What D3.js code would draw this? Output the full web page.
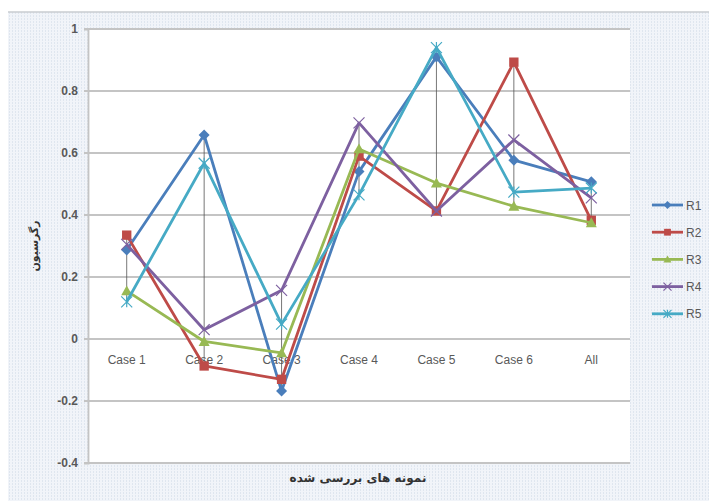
<!DOCTYPE html>
<html>
<head>
<meta charset="utf-8">
<script src="https://cdn.jsdelivr.net/npm/d3@7"></script>
<style>
	body { margin: 0; background: #fff; }
	svg text { font-family: "Liberation Sans", Arial, sans-serif; }
</style>
</head>
<body>
<div id="chart"></div>
<script>

// data
const categories = ["Case 1", "Case 2", "Case 3", "Case 4", "Case 5", "Case 6", "All"];
const seriesNames = ["R1", "R2", "R3", "R4", "R5"];
const R1 = [0.287, 0.658, -0.168, 0.54, 0.91, 0.577, 0.507];
const R2 = [0.335, -0.087, -0.13, 0.59, 0.413, 0.893, 0.383];
const R3 = [0.155, -0.008, -0.045, 0.613, 0.503, 0.428, 0.375];
const R4 = [0.305, 0.03, 0.157, 0.697, 0.413, 0.642, 0.455];
const R5 = [0.12, 0.567, 0.048, 0.465, 0.94, 0.474, 0.487];
const yTicks = [-0.4, -0.2, 0, 0.2, 0.4, 0.6, 0.8, 1];
const xTitle = "نمونه های بررسی شده";
const yTitle = "رگرسیون";

function chart(){

	const width = 709;
	const height = 501;

	const seriesValues = [R1, R2, R3, R4, R5];
	const colors = ["#4a7ebb", "#be4b48", "#98b954", "#7d60a0", "#46aac5"];
	const shapes = ["diamond", "square", "triangle", "x", "star"];

	let svg = d3.select("#chart")
		.append("svg")
		.attr("width", width)
		.attr("height", height);

	//dotted background pattern
	let pat = svg.append("defs").append("pattern")
		.attr("id", "bgdots")
		.attr("width", 3)
		.attr("height", 3)
		.attr("patternUnits", "userSpaceOnUse");
	pat.append("rect").attr("width", 3).attr("height", 3).attr("fill", "#f1f4f9");
	pat.append("rect").attr("width", 1).attr("height", 2).attr("fill", "#dfe6ef");

	svg.append("rect")
		.attr("x", 8).attr("y", 12)
		.attr("width", width - 8).attr("height", height - 12)
		.attr("fill", "url(#bgdots)");

	svg.append("line")
		.attr("x1", 8).attr("x2", width)
		.attr("y1", 12).attr("y2", 12)
		.attr("stroke", "#c9ccd1").attr("stroke-width", 1.5);

	//scales
	let x = d3.scaleBand()
		.domain(categories)
		.range([88, 630]);

	let y = d3.scaleLinear()
		.domain([-0.4, 1])
		.range([463, 29]);

	//plot area
	svg.append("rect")
		.attr("x", x.range()[0]).attr("y", y(1))
		.attr("width", x.range()[1] - x.range()[0])
		.attr("height", y(-0.4) - y(1))
		.attr("fill", "#fff");

	//gridlines
	svg.append("g")
		.selectAll("line")
		.data(yTicks)
		.enter().append("line")
		.attr("x1", 84).attr("x2", x.range()[1])
		.attr("y1", (d)=>y(d)).attr("y2", (d)=>y(d))
		.attr("stroke", "#c4c4c4")
		.attr("stroke-width", 1.8);

	//y axis
	let yAxis = svg.append("g")
		.attr("transform", "translate(88,0)")
		.call(d3.axisLeft(y).tickValues(yTicks).tickSize(4).tickPadding(6)
			.tickFormat((d)=> d === 0 ? "0" : String(+d.toFixed(1))));
	yAxis.select(".domain").attr("stroke", "#c4c4c4").attr("stroke-width", 1.8);
	yAxis.selectAll(".tick line").attr("stroke", "#c4c4c4");
	yAxis.selectAll("text")
		.attr("fill", "#595959")
		.attr("font-size", 12)
		.attr("font-weight", "bold")
		.style("font-family", "Liberation Sans, Arial, sans-serif");

	//x labels
	svg.append("g")
		.selectAll("text")
		.data(categories)
		.enter().append("text")
		.attr("x", (d)=>x(d) + x.bandwidth()/2)
		.attr("y", y(0) + 25)
		.attr("text-anchor", "middle")
		.attr("font-size", 12)
		.attr("fill", "#595959")
		.text((d)=>d);

	//high-low lines
	svg.append("g")
		.selectAll("line")
		.data(categories)
		.enter().append("line")
		.attr("x1", (d)=>x(d) + x.bandwidth()/2)
		.attr("x2", (d)=>x(d) + x.bandwidth()/2)
		.attr("y1", (d, i)=>y(d3.max(seriesValues, (s)=>s[i])))
		.attr("y2", (d, i)=>y(d3.min(seriesValues, (s)=>s[i])))
		.attr("stroke", "#555")
		.attr("stroke-opacity", 0.8)
		.attr("stroke-width", 1);

	//marker drawing
	function marker(sel, shape, color, size){
		let s = size;
		if (shape === "diamond"){
			sel.append("path").attr("d", `M0,${-s}L${s},0L0,${s}L${-s},0Z`).attr("fill", color);
		} else if (shape === "square"){
			sel.append("rect").attr("x", -s*0.85).attr("y", -s*0.85)
				.attr("width", s*1.7).attr("height", s*1.7).attr("fill", color);
		} else if (shape === "triangle"){
			sel.append("path").attr("d", `M0,${-s}L${s},${s*0.8}L${-s},${s*0.8}Z`).attr("fill", color);
		} else if (shape === "x"){
			sel.append("path").attr("d", `M${-s},${-s}L${s},${s}M${-s},${s}L${s},${-s}`)
				.attr("stroke", color).attr("stroke-width", 1.2).attr("fill", "none");
		} else {
			sel.append("path").attr("d", `M${-s},${-s}L${s},${s}M${-s},${s}L${s},${-s}M0,${-s}L0,${s}`)
				.attr("stroke", color).attr("stroke-width", 1.2).attr("fill", "none");
		}
	}

	let line = d3.line()
		.x((d, i)=>x(categories[i]) + x.bandwidth()/2)
		.y((d)=>y(d));

	seriesValues.forEach((vals, k)=>{
		let g = svg.append("g");
		g.append("path")
			.datum(vals)
			.attr("d", line)
			.attr("fill", "none")
			.attr("stroke", colors[k])
			.attr("stroke-width", 2.8)
			.attr("stroke-linejoin", "round");
		vals.forEach((v, i)=>{
			let m = g.append("g")
				.attr("transform", "translate(" + (x(categories[i]) + x.bandwidth()/2) + "," + y(v) + ")");
			marker(m, shapes[k], colors[k], 5.5);
		});
	});

	//legend
	let legend = svg.append("g")
		.selectAll("g")
		.data(seriesNames)
		.enter().append("g")
		.attr("transform", (d, i)=>"translate(652," + (205 + i*27.2) + ")");
	legend.append("line")
		.attr("x1", 0).attr("x2", 31)
		.attr("stroke", (d, i)=>colors[i])
		.attr("stroke-width", 2.8);
	legend.each(function(d, i){
		let m = d3.select(this).append("g").attr("transform", "translate(15.5,0)");
		marker(m, shapes[i], colors[i], 4);
	});
	legend.append("text")
		.attr("x", 34)
		.attr("y", 4.5)
		.attr("font-size", 12)
		.attr("fill", "#595959")
		.text((d)=>d);

	//axis titles
	svg.append("text")
		.attr("x", 358)
		.attr("y", 482)
		.attr("text-anchor", "middle")
		.attr("font-size", 12)
		.attr("font-weight", "bold")
		.attr("fill", "#333")
		.style("font-family", "DejaVu Sans, sans-serif")
		.text(xTitle);

	svg.append("text")
		.attr("transform", "translate(38,246) rotate(-90)")
		.attr("text-anchor", "middle")
		.attr("font-size", 11)
		.attr("font-weight", "bold")
		.attr("fill", "#333")
		.style("font-family", "DejaVu Sans, sans-serif")
		.text(yTitle);

} //function chart

chart();
</script>
</body>
</html>
